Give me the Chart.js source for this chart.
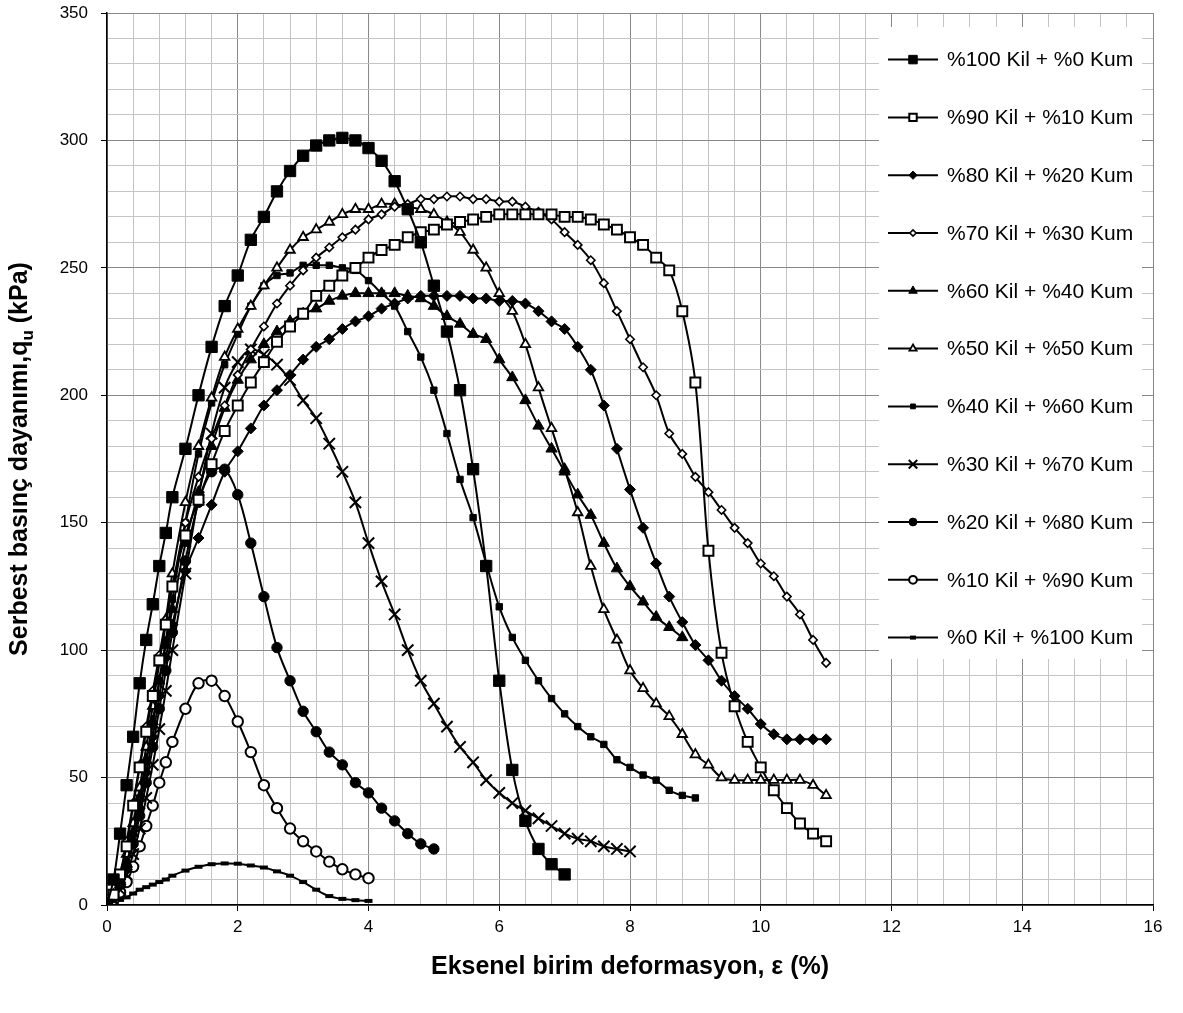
<!DOCTYPE html>
<html lang="tr">
<head>
  <meta charset="UTF-8">
  <title>Serbest basınç dayanımı - eksenel birim deformasyon</title>
  <script src="https://cdn.jsdelivr.net/npm/chart.js"></script>
  <style>
    body { margin: 0; background: #fff; }
  </style>
</head>
<body>
  <canvas id="chart0" width="1183" height="1013"></canvas>

  <script>
    /* Strain readings (%), shared by every mix. */
    const strainSteps = [0, 0.1, 0.2, 0.3, 0.4, 0.5, 0.6, 0.7, 0.8, 0.9, 1.0,
      1.2, 1.4, 1.6, 1.8, 2.0, 2.2, 2.4, 2.6, 2.8, 3.0, 3.2, 3.4, 3.6, 3.8, 4.0,
      4.2, 4.4, 4.6, 4.8, 5.0, 5.2, 5.4, 5.6, 5.8, 6.0, 6.2, 6.4, 6.6, 6.8, 7.0,
      7.2, 7.4, 7.6, 7.8, 8.0, 8.2, 8.4, 8.6, 8.8, 9.0, 9.2, 9.4, 9.6, 9.8, 10.0,
      10.2, 10.4, 10.6, 10.8, 11.0]

    /* Stress values (kPa), one array per mix. */
    const kil100 = [0, 10, 28, 47, 66, 87, 104, 118, 133, 146, 160,
      179, 200, 219, 235, 247, 261, 270, 280, 288, 294, 298, 300, 301, 300, 297,
      292, 284, 273, 260, 243, 225, 202, 171, 133, 88, 53, 33, 22, 16, 12]
    const kil90 = [0, 4, 12, 23, 39, 54, 68, 82, 96, 110, 125,
      145, 159, 173, 186, 196, 205, 213, 221, 227, 232, 239, 243, 247, 250, 254,
      257, 259, 262, 264, 265, 267, 268, 269, 270, 271, 271, 271, 271, 271, 270,
      270, 269, 267, 265, 262, 259, 254, 249, 233, 205, 139, 99, 78, 64, 54,
      45, 38, 32, 28, 25]
    const kil80 = [0, 3, 8, 15, 25, 38, 52, 66, 82, 97, 110,
      131, 144, 157, 170, 178, 187, 196, 202, 208, 214, 219, 222, 226, 229, 231,
      234, 236, 238, 239, 239, 239, 239, 238, 238, 237, 237, 236, 233, 229, 226,
      219, 210, 196, 179, 163, 148, 134, 121, 111, 102, 96, 88, 82, 77, 71,
      67, 65, 65, 65, 65]
    const kil70 = [0, 4, 12, 25, 40, 55, 70, 84, 98, 112, 125,
      150, 168, 183, 196, 208, 218, 227, 236, 243, 249, 254, 258, 262, 265, 269,
      271, 274, 275, 277, 277, 278, 278, 277, 277, 276, 276, 274, 272, 269, 264,
      259, 253, 244, 233, 222, 211, 200, 185, 177, 168, 162, 155, 148, 142, 134,
      129, 121, 114, 104, 95]
    const kil60 = [0, 3, 8, 16, 28, 42, 57, 72, 88, 102, 116,
      142, 162, 180, 195, 206, 214, 220, 225, 229, 232, 234, 237, 239, 240, 240,
      240, 240, 239, 238, 235, 231, 228, 224, 222, 214, 207, 198, 188, 179, 170,
      161, 153, 142, 132, 125, 119, 113, 109, 105]
    const kil50 = [0, 4, 10, 20, 32, 46, 62, 78, 95, 112, 130,
      158, 180, 199, 215, 226, 235, 243, 250, 257, 262, 265, 268, 271, 273, 273,
      275, 275, 274, 273, 271, 268, 264, 257, 250, 240, 233, 220, 203, 187, 171,
      154, 133, 116, 104, 92, 85, 79, 74, 67, 59, 55, 50, 49, 49, 49,
      49, 49, 49, 47, 43]
    const kil40 = [0, 3, 9, 17, 28, 42, 56, 71, 88, 104, 120,
      150, 177, 197, 212, 224, 235, 243, 247, 248, 251, 251, 251, 250, 249, 245,
      240, 235, 225, 215, 202, 185, 167, 152, 134, 117, 105, 96, 88, 81, 75,
      70, 66, 63, 57, 54, 51, 49, 45, 43, 42]
    const kil30 = [0, 2, 6, 12, 20, 30, 42, 55, 69, 84, 100,
      130, 160, 185, 203, 213, 218, 216, 212, 206, 198, 191, 181, 170, 158, 142,
      127, 114, 100, 88, 79, 70, 62, 56, 49, 44, 40, 37, 34, 31, 28,
      26, 25, 23, 22, 21]
    const kil20 = [0, 3, 8, 15, 24, 35, 48, 62, 77, 92, 107,
      135, 158, 170, 171, 161, 142, 121, 101, 88, 76, 68, 60, 55, 48, 44,
      38, 33, 28, 24, 22]
    const kil10 = [0, 2, 5, 9, 15, 23, 31, 39, 48, 56, 64,
      77, 87, 88, 82, 72, 60, 47, 38, 30, 25, 21, 17, 14, 12, 10.5]
    const kil0 = [0, 1, 2, 3, 4.5, 6, 7, 8, 9, 10, 11.5,
      13.5, 15, 16, 16.3, 16.2, 15.5, 14.7, 13.2, 11.5, 9, 6, 3.5, 2.4, 1.9, 1.6]

    const seriesLabels = ["%100 Kil + %0 Kum", "%90 Kil + %10 Kum", "%80 Kil + %20 Kum",
      "%70 Kil + %30 Kum", "%60 Kil + %40 Kum", "%50 Kil + %50 Kum", "%40 Kil + %60 Kum",
      "%30 Kil + %70 Kum", "%20 Kil + %80 Kum", "%10 Kil + %90 Kum", "%0 Kil + %100 Kum"]
    const seriesValues = [kil100, kil90, kil80, kil70, kil60, kil50, kil40, kil30, kil20, kil10, kil0]

    /* Marker look for each series (Excel style markers). */
    const markers = [
      { style: "rect", radius: 8, fill: "#000", border: 1 },
      { style: "rect", radius: 7, fill: "#fff", border: 2 },
      { style: "rectRot", radius: 5.5, fill: "#000", border: 1 },
      { style: "rectRot", radius: 4.2, fill: "#fff", border: 1.6 },
      { style: "triangle", radius: 6.5, fill: "#000", border: 1 },
      { style: "triangle", radius: 5.5, fill: "#fff", border: 1.8 },
      { style: "rect", radius: 4.5, fill: "#000", border: 1 },
      { style: "crossRot", radius: 8, fill: "#000", border: 2 },
      { style: "circle", radius: 5.2, fill: "#000", border: 1 },
      { style: "circle", radius: 5.2, fill: "#fff", border: 2 },
      { style: "line", radius: 4, fill: "#000", border: 4 }
    ]

    const fontFamily = 'Arial, "Liberation Sans", sans-serif'
    Chart.defaults.font.family = fontFamily
    Chart.defaults.color = "#000"

    const isMultiple = (value, step) => Math.abs(value / step - Math.round(value / step)) < 1e-6

    /* Build datasets. */
    const datasets = seriesValues.map((values, i) => ({
      label: seriesLabels[i],
      data: values.map((v, j) => ({ x: strainSteps[j], y: v })),
      showLine: true,
      borderColor: "#000",
      borderWidth: 2,
      tension: 0.35,
      pointStyle: markers[i].style,
      pointRadius: markers[i].radius,
      pointBackgroundColor: markers[i].fill,
      pointBorderColor: "#000",
      pointBorderWidth: markers[i].border
    }))

    /* Legend drawn in a white box inside the plot. */
    const legendBox = {
      id: "legendBox",
      afterDatasetsDraw(chart) {
        const ctx = chart.ctx
        ctx.save()
        ctx.fillStyle = "#fff"
        ctx.fillRect(879, 27, 263, 632)
        chart.data.datasets.forEach((ds, i) => {
          const cy = 59.6 + 57.8 * i
          ctx.strokeStyle = "#000"
          ctx.lineWidth = 2
          ctx.beginPath()
          ctx.moveTo(888, cy)
          ctx.lineTo(938, cy)
          ctx.stroke()
          ctx.fillStyle = markers[i].fill
          ctx.lineWidth = markers[i].border
          Chart.helpers.drawPoint(ctx, {
            pointStyle: markers[i].style,
            rotation: 0,
            radius: markers[i].radius * 0.75,
            borderWidth: markers[i].border
          }, 913, cy)
          ctx.fillStyle = "#000"
          ctx.font = "21px " + fontFamily
          ctx.textAlign = "left"
          ctx.textBaseline = "middle"
          ctx.fillText(ds.label, 947, cy + 1)
        })
        ctx.restore()
      }
    }

    /* Y axis title with the subscript u. */
    const yTitle = {
      id: "yTitle",
      afterDraw(chart) {
        const ctx = chart.ctx
        const partA = "Serbest basınç dayanımı,q"
        const partB = "u"
        const partC = " (kPa)"
        const big = "bold 25px " + fontFamily
        const small = "bold 17px " + fontFamily
        ctx.save()
        ctx.translate(19, 459)
        ctx.rotate(-Math.PI / 2)
        ctx.fillStyle = "#000"
        ctx.textBaseline = "alphabetic"
        ctx.textAlign = "left"
        ctx.font = big
        const wA = ctx.measureText(partA).width
        const wC = ctx.measureText(partC).width
        ctx.font = small
        const wB = ctx.measureText(partB).width
        let x = -(wA + wB + wC) / 2
        ctx.font = big
        ctx.fillText(partA, x, 8)
        x += wA
        ctx.font = small
        ctx.fillText(partB, x, 14)
        x += wB
        ctx.font = big
        ctx.fillText(partC, x, 8)
        ctx.restore()
      }
    }

    const ctx0 = document.getElementById("chart0").getContext("2d")
    const myChart0 = new Chart(ctx0, {
      type: "scatter",
      data: { datasets: datasets },
      options: {
        responsive: false,
        animation: false,
        events: [],
        layout: { padding: { top: 13, right: 30, left: 0, bottom: 0 } },
        plugins: {
          legend: { display: false },
          tooltip: { enabled: false }
        },
        scales: {
          x: {
            type: "linear",
            min: 0,
            max: 16,
            afterFit: scale => { scale.height = 108 },
            ticks: {
              stepSize: 0.4,
              autoSkip: false,
              maxRotation: 0,
              padding: 6,
              font: { size: 17 },
              callback: value => isMultiple(value, 2) ? String(Math.round(value)) : ""
            },
            grid: {
              tickLength: 6,
              color: c => isMultiple(c.tick.value, 2) ? "#888888" : "#c4c4c4",
              tickColor: c => isMultiple(c.tick.value, 2) ? "#000" : "rgba(0,0,0,0)",
              lineWidth: 1
            },
            border: { color: "#000", width: 1.5 },
            title: {
              display: true,
              text: "Eksenel birim deformasyon, ε (%)",
              font: { size: 25, weight: "bold" },
              padding: { top: 0, bottom: 31 }
            }
          },
          y: {
            min: 0,
            max: 350,
            afterFit: scale => {
              scale.width = 107
              scale.paddingTop = 0
              scale.paddingBottom = 0
            },
            ticks: {
              stepSize: 10,
              autoSkip: false,
              padding: 13,
              font: { size: 17 },
              callback: value => isMultiple(value, 50) ? String(value) : ""
            },
            grid: {
              tickLength: 6,
              color: c => isMultiple(c.tick.value, 50) ? "#888888" : "#c4c4c4",
              tickColor: c => isMultiple(c.tick.value, 50) ? "#000" : "rgba(0,0,0,0)",
              lineWidth: 1
            },
            border: { color: "#000", width: 1.5 }
          }
        }
      },
      plugins: [legendBox, yTitle]
    })
  </script>
</body>
</html>
